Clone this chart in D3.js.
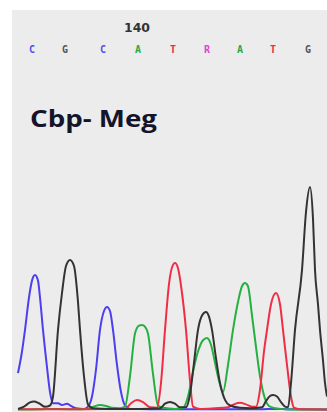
<!DOCTYPE html>
<html><head><meta charset="utf-8">
<script src="https://cdn.jsdelivr.net/npm/d3@7"></script>
<style>html,body{margin:0;padding:0;background:#fff;}svg{display:block;}</style>
</head><body>
<svg id="c" width="327" height="412"></svg>
<script>
// Base calls (sequence row) and their scan positions
const baseCalls = ["C","G","C","A","T","R","A","T","G"];
const basePositions = [32, 65, 103, 138, 173, 207, 240, 273, 308];
const positionLabel = "140";
const positionLabelAt = 137;
const sampleTitle = "Cbp- Meg";

// Trace data: [scan position, signal intensity]
const traceC = [[18,164],[22,260],[25,356],[29,500],[32,575],[35,600],[38,575],[40,500],[43,356],[47,190],[50,80],[53,30],[58,30],[62,22],[67,28],[71,18],[76,8],[84,5],[88,15],[92,60],[96,180],[100,356],[104,440],[107,458],[110,440],[113,356],[117,200],[121,80],[125,20],[130,5],[150,3],[180,3],[220,3],[260,3],[275,5],[290,3],[327,2]];
const traceG = [[18,5],[24,15],[30,34],[34,38],[39,30],[45,14],[50,20],[53,60],[58,356],[62,520],[66,640],[70,667],[74,640],[78,480],[80,356],[84,150],[88,25],[93,8],[110,5],[130,5],[150,6],[160,8],[165,28],[170,36],[175,28],[180,12],[186,12],[190,70],[194,210],[198,356],[202,420],[206,436],[209,415],[212,356],[216,230],[220,120],[225,45],[230,20],[240,10],[250,8],[262,12],[266,40],[270,62],[273,67],[277,60],[281,35],[285,15],[288,12],[291,120],[295,356],[302,622],[306,880],[310,991],[313,850],[315,622],[318,470],[320,356],[323,220],[325,120],[327,60]];
const traceA = [[18,2],[40,3],[52,5],[60,4],[75,3],[88,6],[94,16],[100,22],[106,18],[112,10],[120,8],[125,15],[130,150],[135,340],[139,375],[142,378],[145,370],[148,340],[153,160],[158,20],[163,10],[175,5],[183,10],[188,60],[193,170],[198,260],[203,310],[207,320],[211,290],[215,210],[219,130],[223,80],[228,200],[233,356],[238,480],[242,550],[245,564],[248,550],[252,420],[256,280],[260,150],[265,50],[270,15],[280,5],[290,2],[327,2]];
const traceT = [[18,3],[60,3],[100,4],[120,5],[125,5],[131,30],[137,44],[143,35],[150,12],[157,10],[161,120],[165,356],[169,560],[173,645],[175,653],[178,630],[182,520],[186,356],[190,130],[193,15],[200,5],[215,8],[228,12],[234,25],[240,32],[246,25],[252,15],[256,15],[260,90],[264,260],[267,356],[271,470],[276,520],[280,470],[283,356],[287,200],[291,60],[294,10],[300,3],[327,2]];

const colors = {C:"#4b3ff0", G:"#333333", A:"#26b040", T:"#f02d45", R:"#e03ad0"};
const letterColors = {C:"#5a4af0", G:"#555555", A:"#2aa845", T:"#ee2a45", R:"#e040d8"};

const svg = d3.select("#c");
const panel = {x0:12, y0:10, x1:327, y1:412};

svg.append("rect").attr("x",panel.x0).attr("y",panel.y0)
  .attr("width",panel.x1-panel.x0).attr("height",panel.y1-panel.y0)
  .attr("fill","#ececec");

const x = d3.scaleLinear().domain([0,327]).range([0,327]);
const y = d3.scaleLinear().domain([0,1000]).range([410,185]);

svg.append("defs").append("clipPath").attr("id","clip")
  .append("rect").attr("x",panel.x0).attr("y",panel.y0)
  .attr("width",panel.x1-panel.x0).attr("height",panel.y1-panel.y0);

const line = d3.line().x(d=>x(d[0])).y(d=>y(d[1])).curve(d3.curveMonotoneX);
const g = svg.append("g").attr("clip-path","url(#clip)");
[["C",traceC],["A",traceA],["T",traceT],["G",traceG]].forEach(([k,data])=>{
  g.append("path").datum(data).attr("d",line)
    .attr("fill","none").attr("stroke",colors[k]).attr("stroke-width",2)
    .attr("stroke-linejoin","round");
});

// Sequence letters
svg.selectAll("text.base").data(baseCalls).enter().append("text")
  .attr("class","base")
  .attr("x",(d,i)=>x(basePositions[i])).attr("y",53)
  .attr("text-anchor","middle")
  .attr("font-family","DejaVu Sans Mono, monospace").attr("font-weight","bold")
  .attr("font-size",10).attr("fill",d=>letterColors[d]).text(d=>d);

svg.append("text").attr("x",x(positionLabelAt)-13).attr("y",32)
  .attr("textLength",26).attr("lengthAdjust","spacingAndGlyphs")
  .attr("font-family","DejaVu Sans, sans-serif")
  .attr("font-weight","bold").attr("font-size",12).attr("fill","#333")
  .text(positionLabel);

svg.append("text").attr("x",30).attr("y",127)
  .attr("textLength",127).attr("lengthAdjust","spacingAndGlyphs")
  .attr("font-family","Open Sans, sans-serif").attr("font-weight","bold")
  .attr("font-size",23).attr("fill","#14142a").text(sampleTitle);
</script>
</body></html>
